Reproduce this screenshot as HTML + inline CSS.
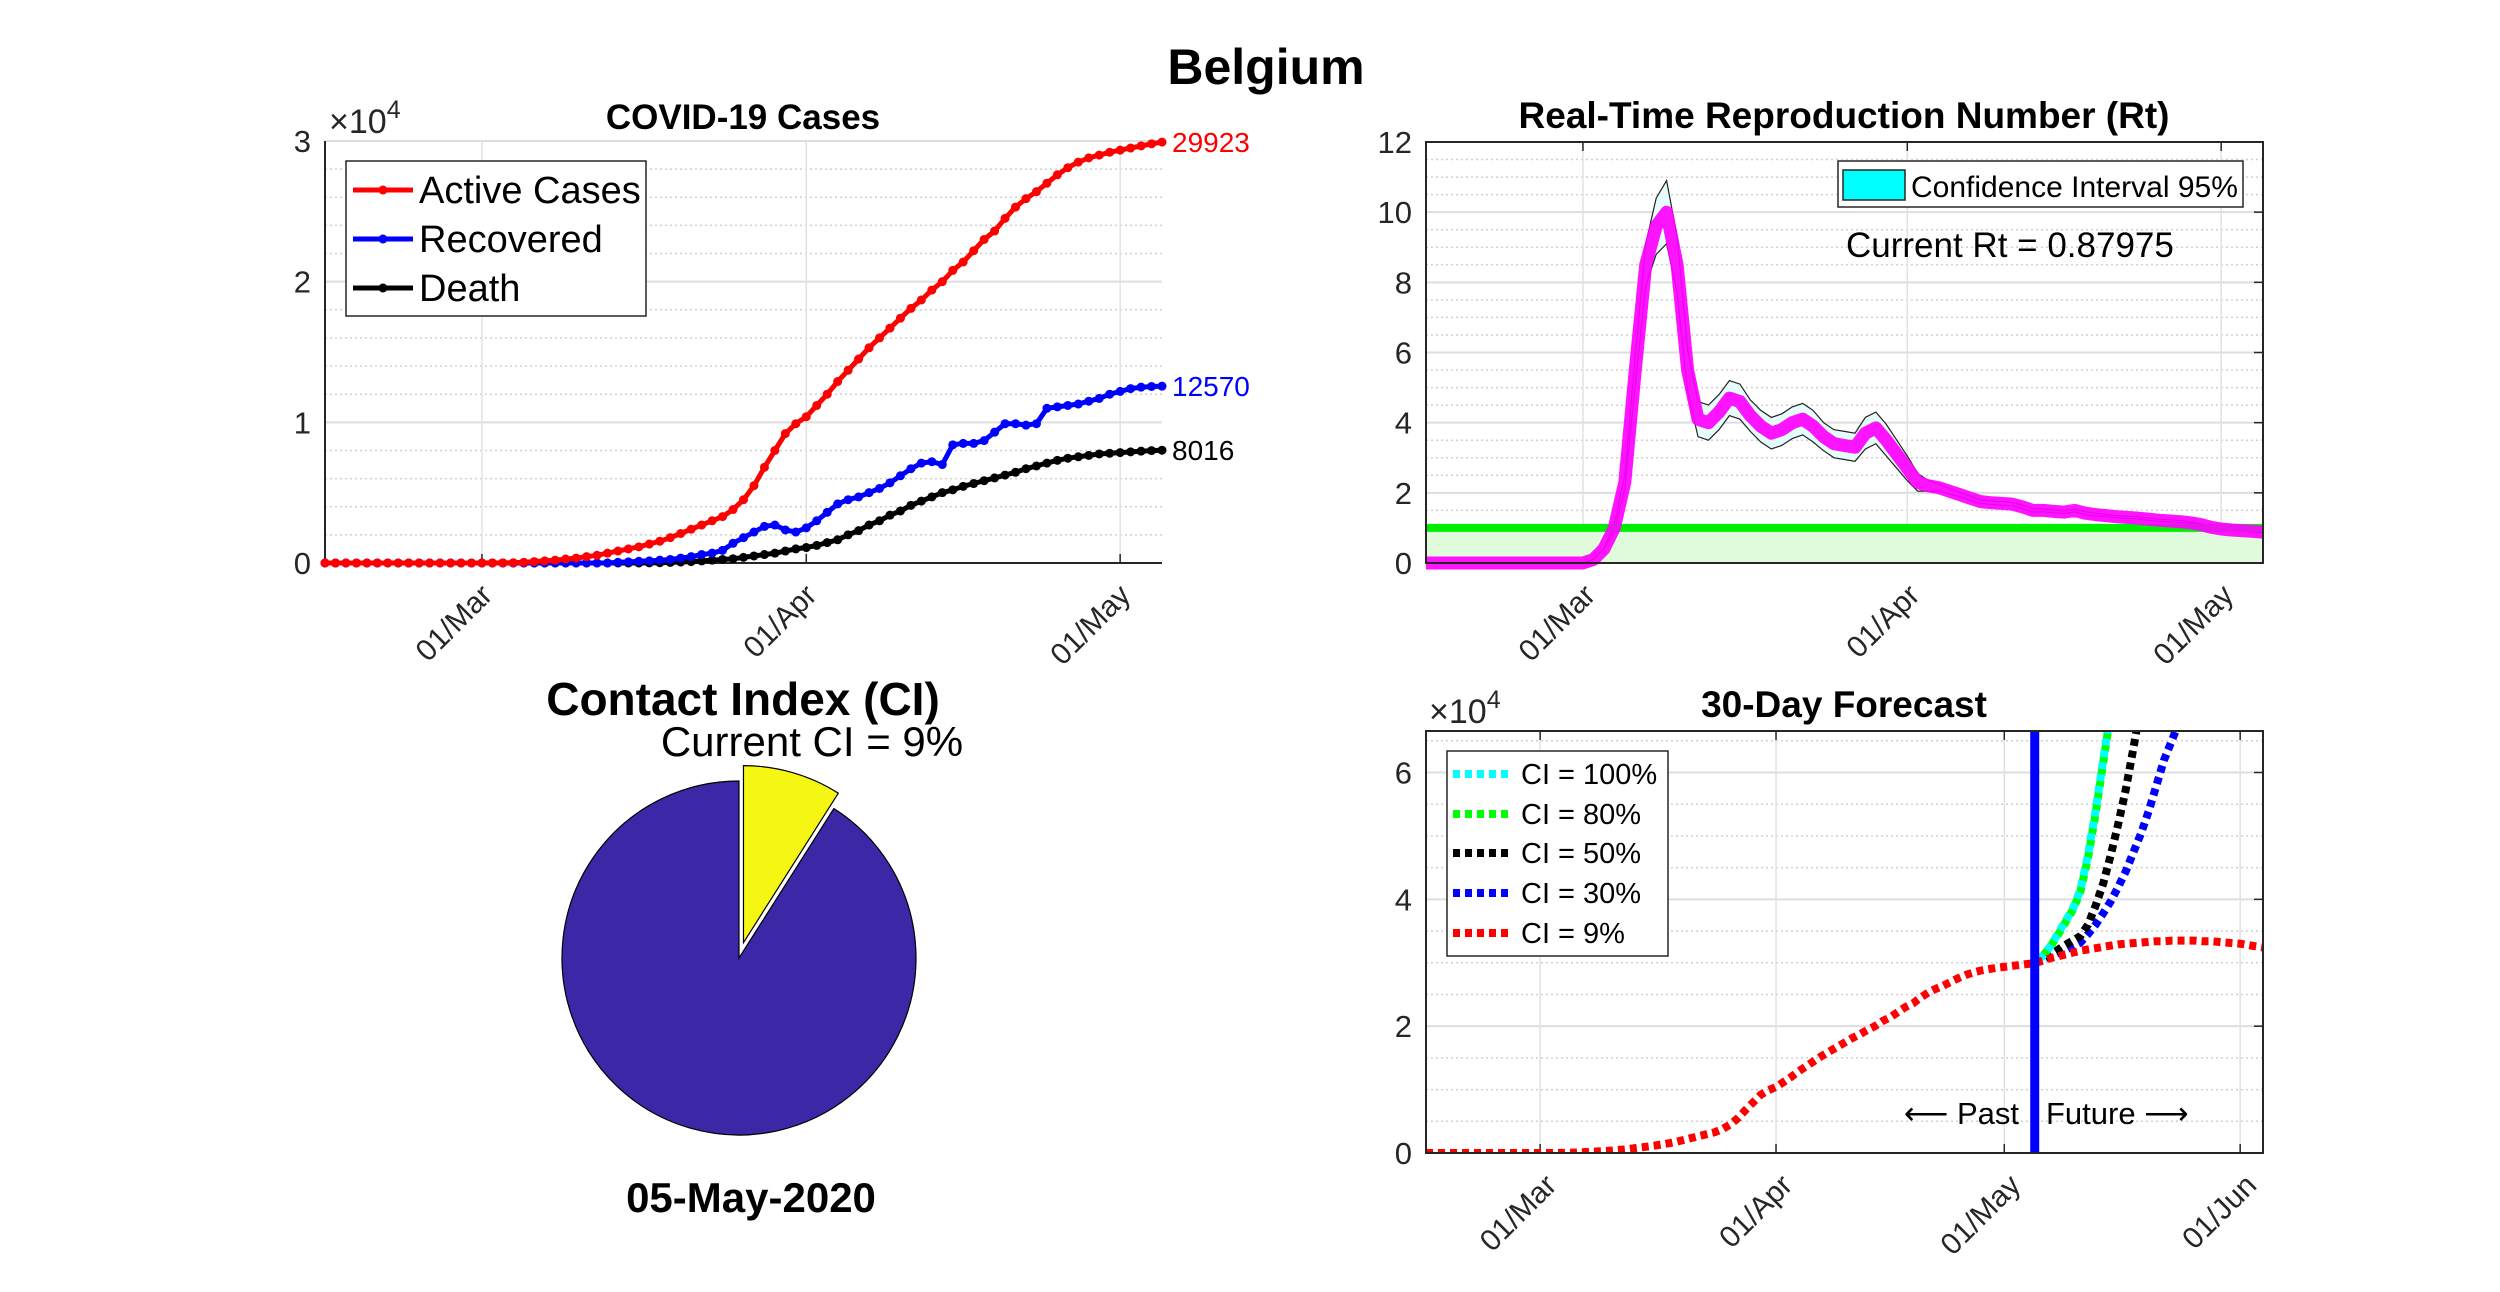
<!DOCTYPE html>
<html><head><meta charset="utf-8"><title>Belgium COVID-19</title>
<style>html,body{margin:0;padding:0;background:#fff}svg{display:block}text{font-family:"Liberation Sans",Arial,sans-serif}</style>
</head><body>
<svg id="fig" xmlns="http://www.w3.org/2000/svg" width="2500" height="1292" viewBox="0 0 2500 1292">
<text x="1266" y="84" font-size="50" font-weight="bold" text-anchor="middle">Belgium</text>
</svg>
<script>
// ---------- data (day 0 = 15-Feb-2020) ----------
const tickDays = [15, 46, 76];
const tickLabels = ["01/Mar", "01/Apr", "01/May"];
const tickDays4 = [15, 46, 76, 107];
const tickLabels4 = ["01/Mar", "01/Apr", "01/May", "01/Jun"];
const activeCases = [0,0,0,0,0,0,0,0,0,0,0,0,0,0,0,2,5,10,20,50,100,150,200,280,350,450,550,700,850,1000,1150,1350,1550,1800,2100,2400,2700,3000,3300,3800,4500,5500,6800,8000,9200,9900,10400,11200,12000,12900,13700,14500,15300,16000,16700,17400,18100,18700,19400,20000,20800,21400,22200,23000,23600,24500,25300,25900,26400,27000,27600,28100,28500,28800,29000,29200,29350,29500,29650,29800,29923];
const recovered = [0,0,0,0,0,0,0,0,0,0,0,0,0,0,0,0,0,0,0,0,0,0,0,0,0,0,0,0,50,80,120,150,200,250,350,450,600,700,900,1400,1800,2200,2600,2700,2350,2200,2500,3000,3600,4200,4500,4700,5000,5300,5700,6200,6700,7100,7200,7000,8400,8500,8500,8700,9300,9900,9900,9800,9900,11000,11100,11200,11300,11500,11700,12000,12200,12400,12500,12550,12570];
const deaths = [0,0,0,0,0,0,0,0,0,0,0,0,0,0,0,0,0,0,0,0,0,0,0,0,0,0,0,0,0,0,0,10,20,40,70,100,150,200,250,300,400,500,600,700,850,1000,1100,1250,1450,1650,2000,2300,2700,3000,3400,3700,4100,4400,4700,5000,5200,5450,5650,5850,6050,6250,6450,6700,6900,7100,7300,7450,7550,7650,7750,7800,7850,7900,7950,7990,8016];
const rt = [0,0,0,0,0,0,0,0,0,0,0,0,0,0,0,0,0.1,0.4,1.0,2.3,5.5,8.5,9.6,10.0,8.5,5.5,4.1,4.0,4.3,4.7,4.6,4.2,3.9,3.7,3.8,4.0,4.1,3.9,3.6,3.4,3.35,3.3,3.7,3.85,3.5,3.1,2.7,2.3,2.2,2.15,2.05,1.95,1.85,1.75,1.72,1.7,1.68,1.6,1.5,1.5,1.47,1.45,1.5,1.42,1.38,1.35,1.32,1.3,1.28,1.25,1.22,1.2,1.18,1.15,1.1,1.02,0.97,0.94,0.92,0.9,0.88];
const rtHalfCI = [0,0,0,0,0,0,0,0,0,0,0,0,0,0,0,0,0,0,0.1,0.2,0.4,0.6,0.8,0.9,0.8,0.6,0.5,0.5,0.5,0.5,0.5,0.45,0.45,0.45,0.45,0.45,0.45,0.45,0.4,0.4,0.4,0.4,0.45,0.45,0.45,0.4,0.35,0.25,0.15,0.1,0.08,0.06,0.06,0.05,0.05,0.05,0.05,0.05,0.05,0.04,0.04,0.04,0.04,0.04,0.04,0.03,0.03,0.03,0.03,0.03,0.03,0.03,0.03,0.02,0.02,0.02,0.02,0.02,0.02,0.02,0.02];
const currentRt = "0.87975";
const contactIndex = 9;
const forecastStart = 80;
const fcCI100 = [2.99,3.1,3.25,3.45,3.65,3.85,4.15,4.7,5.4,6.2,7.0,7.9];
const fcCI80  = [2.99,3.1,3.24,3.43,3.63,3.83,4.12,4.65,5.35,6.15,6.95,7.8];
const fcCI50  = [2.99,3.05,3.12,3.2,3.28,3.35,3.42,3.6,3.9,4.25,4.7,5.2,5.75,6.4,7.1];
const fcCI30  = [2.99,3.05,3.1,3.15,3.2,3.26,3.32,3.45,3.6,3.78,3.97,4.2,4.45,4.75,5.05,5.4,5.8,6.2,6.5,6.8,7.2];
const fcCI9   = [2.99,3.03,3.07,3.1,3.13,3.16,3.19,3.21,3.23,3.25,3.27,3.29,3.3,3.31,3.32,3.33,3.34,3.34,3.35,3.35,3.35,3.35,3.34,3.34,3.33,3.32,3.31,3.3,3.28,3.26,3.24];

// ---------- helpers ----------
const NS = "http://www.w3.org/2000/svg";
const svg = document.getElementById("fig");
function mk(tag, attrs, parent) {
  const e = document.createElementNS(NS, tag);
  for (const k in attrs) e.setAttribute(k, attrs[k]);
  (parent || svg).appendChild(e);
  return e;
}
function txt(s, attrs, parent) { const t = mk("text", attrs, parent); t.textContent = s; return t; }
function pathFrom(xs, ys) { return xs.map((x, i) => (i ? "L" : "M") + x.toFixed(1) + " " + ys[i].toFixed(1)).join(" "); }

// ---------- Chart 1 : COVID-19 cases ----------
const c1 = { l: 325, r: 1162, t: 141, b: 563 };
const x1 = d => c1.l + d * (c1.r - c1.l) / 80;
const y1 = v => c1.b - v * (c1.b - c1.t) / 30000;
const g1 = mk("g", {});


for (let v = 2000; v < 30000; v += 2000) {
  if (v % 10000 === 0) continue;
  const m = mk("line", { x1: c1.l, x2: c1.r, y1: y1(v), y2: y1(v), stroke: "#d0d0d0", "stroke-width": 1.5, "stroke-dasharray": "2 3" }, g1);
  
  
}
for (let v = 0; v <= 30000; v += 10000) {
  const gl = mk("line", { x1: c1.l, x2: c1.r, y1: y1(v), y2: y1(v), stroke: "#dedede", "stroke-width": 2 }, g1);
  
  
  const tl = txt(String(v / 10000), { x: c1.l - 14, y: y1(v) + 11, "font-size": 31, "text-anchor": "end", fill: "#262626" }, g1);
  
  
}
tickDays.forEach((d, i) => {
  const gl = mk("line", { x1: x1(d), x2: x1(d), y1: c1.t, y2: c1.b, stroke: "#e2e2e2", "stroke-width": 1.5 }, g1);
  
  
  const tk = mk("line", { x1: x1(d), x2: x1(d), y1: c1.b, y2: c1.b - 9, stroke: "#262626", "stroke-width": 1.5 }, g1);
  
  
  const tl = txt(tickLabels[i], { x: 0, y: 0, "font-size": 30, "text-anchor": "end", fill: "#262626", transform: `translate(${x1(d) + 12},${c1.b + 34}) rotate(-45)` }, g1);
  
  
});
const ax1 = mk("path", { d: `M${c1.l} ${c1.t} L${c1.l} ${c1.b} L${c1.r} ${c1.b}`, stroke: "#262626", "stroke-width": 2, fill: "none" }, g1);


const e1 = txt("", { x: 329, y: 133, "font-size": 34, fill: "#262626" }, g1);
e1.innerHTML = '×10<tspan dy="-15" font-size="25">4</tspan>';


const t1 = txt("COVID-19 Cases", { x: 743, y: 129, "font-size": 35, "font-weight": "bold", "text-anchor": "middle" }, g1);



const series1 = [
  { data: deaths, color: "#000000", name: "death-line" },
  { data: recovered, color: "#0000ff", name: "recovered-line" },
  { data: activeCases, color: "#ff0000", name: "active-cases-line" }
];
series1.forEach(s => {
  const xs = s.data.map((_, i) => x1(i)), ys = s.data.map(v => y1(v));
  const p = mk("path", { d: pathFrom(xs, ys), stroke: s.color, "stroke-width": 5, fill: "none", "stroke-linejoin": "round" }, g1);
  
  
  xs.forEach((x, i) => {
    const c = mk("circle", { cx: x, cy: ys[i], r: 4.5, fill: s.color }, g1);
    
    
  });
});
const endLabels = [
  { v: activeCases[80], color: "#ff0000" },
  { v: recovered[80], color: "#0000ff" },
  { v: deaths[80], color: "#000000" }
];
endLabels.forEach(e => {
  const t = txt(String(e.v), { x: c1.r + 10, y: y1(e.v) + 10, "font-size": 28, fill: e.color }, g1);
  
  
});
const lg1 = mk("g", {}, g1);


mk("rect", { x: 346, y: 161, width: 300, height: 155, fill: "#fff", stroke: "#262626", "stroke-width": 1.5 }, lg1);
[["Active Cases", "#ff0000", 190], ["Recovered", "#0000ff", 239], ["Death", "#000000", 288]].forEach(r => {
  const le = mk("g", {}, lg1);
  
  
  mk("line", { x1: 353, x2: 413, y1: r[2], y2: r[2], stroke: r[1], "stroke-width": 5 }, le);
  mk("circle", { cx: 383, cy: r[2], r: 4.5, fill: r[1] }, le);
  txt(r[0], { x: 419, y: r[2] + 13, "font-size": 38, fill: "#000" }, le);
});

// ---------- Chart 2 : Rt ----------
const c2 = { l: 1426, r: 2263, t: 142, b: 563 };
const x2 = d => c2.l + d * (c2.r - c2.l) / 80;
const y2 = v => c2.b - v * (c2.b - c2.t) / 12;
const g2 = mk("g", {});


for (let v = 0.5; v < 12; v += 0.5) {
  if (v % 2 === 0) continue;
  const m = mk("line", { x1: c2.l, x2: c2.r, y1: y2(v), y2: y2(v), stroke: "#d0d0d0", "stroke-width": 1.5, "stroke-dasharray": "2 3" }, g2);
  
  
}
for (let v = 0; v <= 12; v += 2) {
  const gl = mk("line", { x1: c2.l, x2: c2.r, y1: y2(v), y2: y2(v), stroke: "#dedede", "stroke-width": 2 }, g2);
  
  
  mk("line", { x1: c2.r, x2: c2.r - 9, y1: y2(v), y2: y2(v), stroke: "#262626", "stroke-width": 1.5 }, g2);
  const tl = txt(String(v), { x: c2.l - 14, y: y2(v) + 11, "font-size": 31, "text-anchor": "end", fill: "#262626" }, g2);
  
  
}
tickDays.forEach((d, i) => {
  const gl = mk("line", { x1: x2(d), x2: x2(d), y1: c2.t, y2: c2.b, stroke: "#e2e2e2", "stroke-width": 1.5 }, g2);
  
  
  mk("line", { x1: x2(d), x2: x2(d), y1: c2.b, y2: c2.b - 9, stroke: "#262626", "stroke-width": 1.5 }, g2);
  mk("line", { x1: x2(d), x2: x2(d), y1: c2.t, y2: c2.t + 9, stroke: "#262626", "stroke-width": 1.5 }, g2);
  const tl = txt(tickLabels[i], { x: 0, y: 0, "font-size": 30, "text-anchor": "end", fill: "#262626", transform: `translate(${x2(d) + 14},${c2.b + 34}) rotate(-45)` }, g2);
  
  
});
const thrFill = mk("rect", { x: c2.l, y: y2(1), width: c2.r - c2.l, height: y2(0) - y2(1), fill: "#e0fbdc" }, g2);


const upX = rt.map((_, i) => x2(i));
const upY = rt.map((v, i) => y2(v + rtHalfCI[i]));
const loY = rt.map((v, i) => y2(v - rtHalfCI[i]));
const band = mk("path", { d: pathFrom(upX, upY) + " " + pathFrom(upX.slice().reverse(), loY.slice().reverse()).replace("M", "L") + " Z", fill: "#e4fcfc", stroke: "none" }, g2);


const upL = mk("path", { d: pathFrom(upX, upY), fill: "none", stroke: "#222", "stroke-width": 1.2 }, g2);


const loL = mk("path", { d: pathFrom(upX, loY), fill: "none", stroke: "#222", "stroke-width": 1.2 }, g2);


const thr = mk("line", { x1: c2.l, x2: c2.r, y1: y2(1), y2: y2(1), stroke: "#00ee00", "stroke-width": 8 }, g2);


const rtL = mk("path", { d: pathFrom(upX, rt.map(v => y2(v))), fill: "none", stroke: "#ff00ff", "stroke-width": 13, "stroke-linejoin": "round", "stroke-opacity": 0.92 }, g2);


const box2 = mk("rect", { x: c2.l, y: c2.t, width: c2.r - c2.l, height: c2.b - c2.t, fill: "none", stroke: "#262626", "stroke-width": 2 }, g2);


const lg2 = mk("g", {}, g2);


mk("rect", { x: 1838, y: 161, width: 405, height: 46, fill: "#fff", stroke: "#262626", "stroke-width": 1.5 }, lg2);
mk("rect", { x: 1843, y: 170, width: 62, height: 30, fill: "#00ffff", stroke: "#262626", "stroke-width": 1.5 }, lg2);
txt("Confidence Interval 95%", { x: 1911, y: 197, "font-size": 30 }, lg2);
const crt = txt("Current Rt = " + currentRt, { x: 1846, y: 257, "font-size": 35 }, g2);


const t2 = txt("Real-Time Reproduction Number (Rt)", { x: 1844, y: 128, "font-size": 37, "font-weight": "bold", "text-anchor": "middle" }, g2);



// ---------- Chart 3 : Contact index pie ----------
const g3 = mk("g", {});


const pc = { x: 739, y: 958, r: 177 };
const frac = contactIndex / 100;
const ang = frac * 2 * Math.PI;
const pt = (cx, cy, a) => [cx + pc.r * Math.sin(a), cy - pc.r * Math.cos(a)];
{
  const [ax, ay] = pt(pc.x, pc.y, ang), [bx, by] = pt(pc.x, pc.y, 2 * Math.PI - 0.0001);
  const big = mk("path", { d: `M${pc.x} ${pc.y} L${ax} ${ay} A${pc.r} ${pc.r} 0 1 1 ${bx} ${by} Z`, fill: "#3c27a6", stroke: "#000", "stroke-width": 1.2 }, g3);
  
  
  const off = 16, mid = ang / 2;
  const ox = pc.x + off * Math.sin(mid), oy = pc.y - off * Math.cos(mid);
  const [sx, sy] = pt(ox, oy, 0), [ex, ey] = pt(ox, oy, ang);
  const ys = mk("path", { d: `M${ox} ${oy} L${sx} ${sy} A${pc.r} ${pc.r} 0 0 1 ${ex} ${ey} Z`, fill: "#f6f614", stroke: "#000", "stroke-width": 1.2 }, g3);
  
  
}
const t3 = txt("Contact Index (CI)", { x: 743, y: 715, "font-size": 46, "font-weight": "bold", "text-anchor": "middle" }, g3);


const cci = txt("Current CI = " + contactIndex + "%", { x: 812, y: 756, "font-size": 42, "text-anchor": "middle" }, g3);


const dl = txt("05-May-2020", { x: 751, y: 1212, "font-size": 42, "font-weight": "bold", "text-anchor": "middle" }, g3);



// ---------- Chart 4 : Forecast ----------
const c4 = { l: 1426, r: 2263, t: 731, b: 1153 };
const x4 = d => c4.l + d * (c4.r - c4.l) / 110;
const y4 = v => c4.b - v * (1153 - 772.5) / 60000;
const g4 = mk("g", {});


const clip = mk("clipPath", { id: "clip4" }, svg);
mk("rect", { x: c4.l, y: c4.t, width: c4.r - c4.l, height: c4.b - c4.t }, clip);
for (let v = 5000; v < 66000; v += 5000) {
  if (v % 20000 === 0) continue;
  const m = mk("line", { x1: c4.l, x2: c4.r, y1: y4(v), y2: y4(v), stroke: "#d0d0d0", "stroke-width": 1.5, "stroke-dasharray": "2 3" }, g4);
  
  
}
for (let v = 0; v <= 60000; v += 20000) {
  const gl = mk("line", { x1: c4.l, x2: c4.r, y1: y4(v), y2: y4(v), stroke: "#dedede", "stroke-width": 2 }, g4);
  
  
  mk("line", { x1: c4.r, x2: c4.r - 9, y1: y4(v), y2: y4(v), stroke: "#262626", "stroke-width": 1.5 }, g4);
  const tl = txt(String(v / 10000), { x: c4.l - 14, y: y4(v) + 11, "font-size": 31, "text-anchor": "end", fill: "#262626" }, g4);
  
  
}
tickDays4.forEach((d, i) => {
  const gl = mk("line", { x1: x4(d), x2: x4(d), y1: c4.t, y2: c4.b, stroke: "#e2e2e2", "stroke-width": 1.5 }, g4);
  
  
  mk("line", { x1: x4(d), x2: x4(d), y1: c4.b, y2: c4.b - 9, stroke: "#262626", "stroke-width": 1.5 }, g4);
  mk("line", { x1: x4(d), x2: x4(d), y1: c4.t, y2: c4.t + 9, stroke: "#262626", "stroke-width": 1.5 }, g4);
  const tl = txt(tickLabels4[i], { x: 0, y: 0, "font-size": 30, "text-anchor": "end", fill: "#262626", transform: `translate(${x4(d) + 18},${c4.b + 34}) rotate(-45)` }, g4);
  
  
});
const plot4 = mk("g", { "clip-path": "url(#clip4)" }, g4);
const dashAttr = { fill: "none", "stroke-width": 8, "stroke-dasharray": "7 5" };
const fcSeries = [
  { data: fcCI30, color: "#0000ff", name: "forecast-ci-30", off: 0 },
  { data: fcCI50, color: "#000000", name: "forecast-ci-50", off: 0 },
  { data: fcCI80, color: "#00ff00", name: "forecast-ci-80", off: 0 },
  { data: fcCI100, color: "#00ffff", name: "forecast-ci-100", off: 6 }
];
fcSeries.forEach(s => {
  const p = mk("path", Object.assign({ d: pathFrom(s.data.map((_, i) => x4(forecastStart + i)), s.data.map(v => y4(v * 10000))), stroke: s.color, "stroke-dashoffset": s.off }, dashAttr), plot4);
  
  
});
const redAll = activeCases.concat(fcCI9.slice(1).map(v => v * 10000));
const redP = mk("path", Object.assign({ d: pathFrom(redAll.map((_, i) => x4(i)), redAll.map(v => y4(v))), stroke: "#ff0000" }, dashAttr), plot4);


const nowL = mk("line", { x1: x4(forecastStart), x2: x4(forecastStart), y1: c4.t, y2: c4.b, stroke: "#0000ff", "stroke-width": 9 }, g4);


const box4 = mk("rect", { x: c4.l, y: c4.t, width: c4.r - c4.l, height: c4.b - c4.t, fill: "none", stroke: "#262626", "stroke-width": 2 }, g4);


const past = txt("⟵ Past", { x: 2019, y: 1124, "font-size": 31, "text-anchor": "end" }, g4);


const fut = txt("Future ⟶", { x: 2046, y: 1124, "font-size": 31 }, g4);


const e4 = txt("", { x: 1429, y: 723, "font-size": 34, fill: "#262626" }, g4);
e4.innerHTML = '×10<tspan dy="-15" font-size="25">4</tspan>';


const t4 = txt("30-Day Forecast", { x: 1844, y: 717, "font-size": 37, "font-weight": "bold", "text-anchor": "middle" }, g4);


const lg4 = mk("g", {}, g4);


mk("rect", { x: 1447, y: 751, width: 221, height: 205, fill: "#fff", stroke: "#262626", "stroke-width": 1.5 }, lg4);
[["CI = 100%", "#00ffff", 774], ["CI = 80%", "#00ff00", 814], ["CI = 50%", "#000000", 853], ["CI = 30%", "#0000ff", 893], ["CI = 9%", "#ff0000", 933]].forEach(r => {
  const le = mk("g", {}, lg4);
  
  
  mk("line", Object.assign({ x1: 1453, x2: 1509, y1: r[2], y2: r[2], stroke: r[1] }, dashAttr), le);
  txt(r[0], { x: 1521, y: r[2] + 10, "font-size": 29 }, le);
});
</script>
</body></html>
